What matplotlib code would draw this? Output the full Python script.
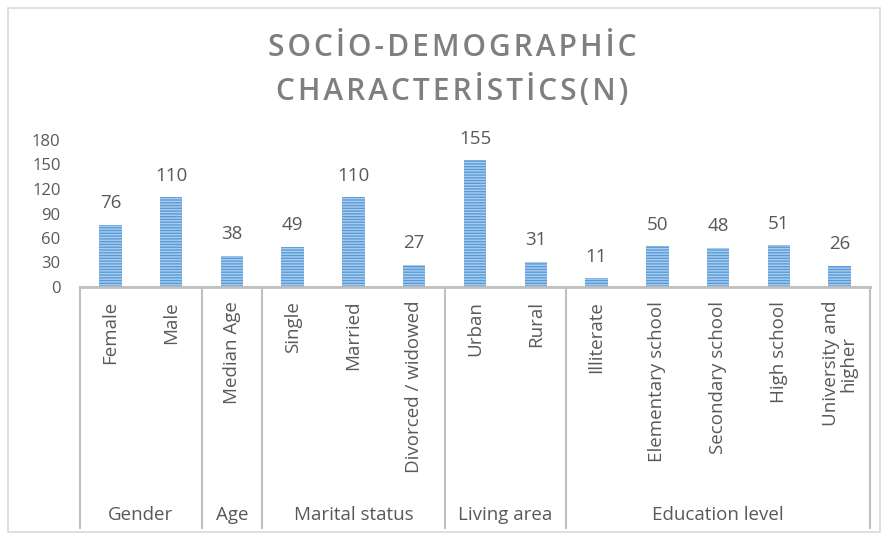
import matplotlib.pyplot as plt
from matplotlib.patches import Rectangle
from matplotlib.transforms import blended_transform_factory

plt.rcParams['font.family'] = ['Open Sans', 'DejaVu Sans']
plt.rcParams['hatch.linewidth'] = 1.0

# Data
categories = ["Female", "Male", "Median Age", "Single", "Married", "Divorced / widowed",
              "Urban", "Rural", "Illiterate", "Elementary school", "Secondary school",
              "High school", "University and\nhigher"]
values = [76, 110, 38, 49, 110, 27, 155, 31, 11, 50, 48, 51, 26]
groups = ["Gender", "Age", "Marital status", "Living area", "Education level"]
group_sizes = [2, 1, 3, 2, 5]

text_gray = '#595959'
line_gray = '#bfbfbf'

fig = plt.figure(figsize=(8.86, 5.37), dpi=100)
ax = fig.add_axes([80 / 886, 250 / 537, 790 / 886, 147 / 537])

x = list(range(len(values)))
bars = ax.bar(x, values, width=0.37, color='#5b9bd5', edgecolor='#a9cdf0',
              linewidth=0, hatch='------')

for xi, v in zip(x, values):
    ax.annotate(str(v), (xi, v), xytext=(0, 9), textcoords='offset points',
                ha='center', va='bottom', fontsize=13.5, color=text_gray)

ax.set_xlim(-0.5, len(values) - 0.5)
ax.set_ylim(0, 180)
ax.set_yticks(range(0, 181, 30))
ax.tick_params(axis='y', length=0, labelsize=12, labelcolor=text_gray, pad=14)
ax.set_xticks(x)
ax.set_xticklabels(categories, rotation=90, fontsize=13.5, color=text_gray, va='top',
                   ha='center', multialignment='center', linespacing=1.0)
ax.tick_params(axis='x', length=0, pad=10)

for s in ['top', 'right', 'left']:
    ax.spines[s].set_visible(False)
ax.spines['bottom'].set_color(line_gray)
ax.spines['bottom'].set_linewidth(2)

# group dividers and labels
trans = blended_transform_factory(ax.transData, ax.transAxes)
bottom = -(528 - 287) / 147
label_y = -(515 - 287) / 147
start = -0.5
ax.plot([start, start], [0, bottom], transform=trans, color=line_gray, lw=1.5, clip_on=False)
for g, n in zip(groups, group_sizes):
    end = start + n
    ax.plot([end, end], [0, bottom], transform=trans, color=line_gray, lw=1.5, clip_on=False)
    ax.text((start + end) / 2, label_y, g, transform=trans, ha='center', va='center',
            fontsize=13.5, color=text_gray)
    start = end

# title (hair spaces give the wide letter spacing)
hs = '\u200a'
line1 = hs.join("SOCİO-DEMOGRAPHİC")
line2 = hs.join("CHARACTERİSTİCS(N)")
fig.text(452 / 886, 1 - 70 / 537, line1 + "\n" + line2, ha='center',
         va='center', fontsize=21.5, fontweight='semibold', color='#7f7f7f', linespacing=1.45)

# chart border
fig.patches.append(Rectangle((8 / 886, 5 / 537), 872 / 886, 524 / 537, transform=fig.transFigure,
                             fill=False, edgecolor='#d9d9d9', lw=1.2))

plt.savefig('out.png', dpi=100)
